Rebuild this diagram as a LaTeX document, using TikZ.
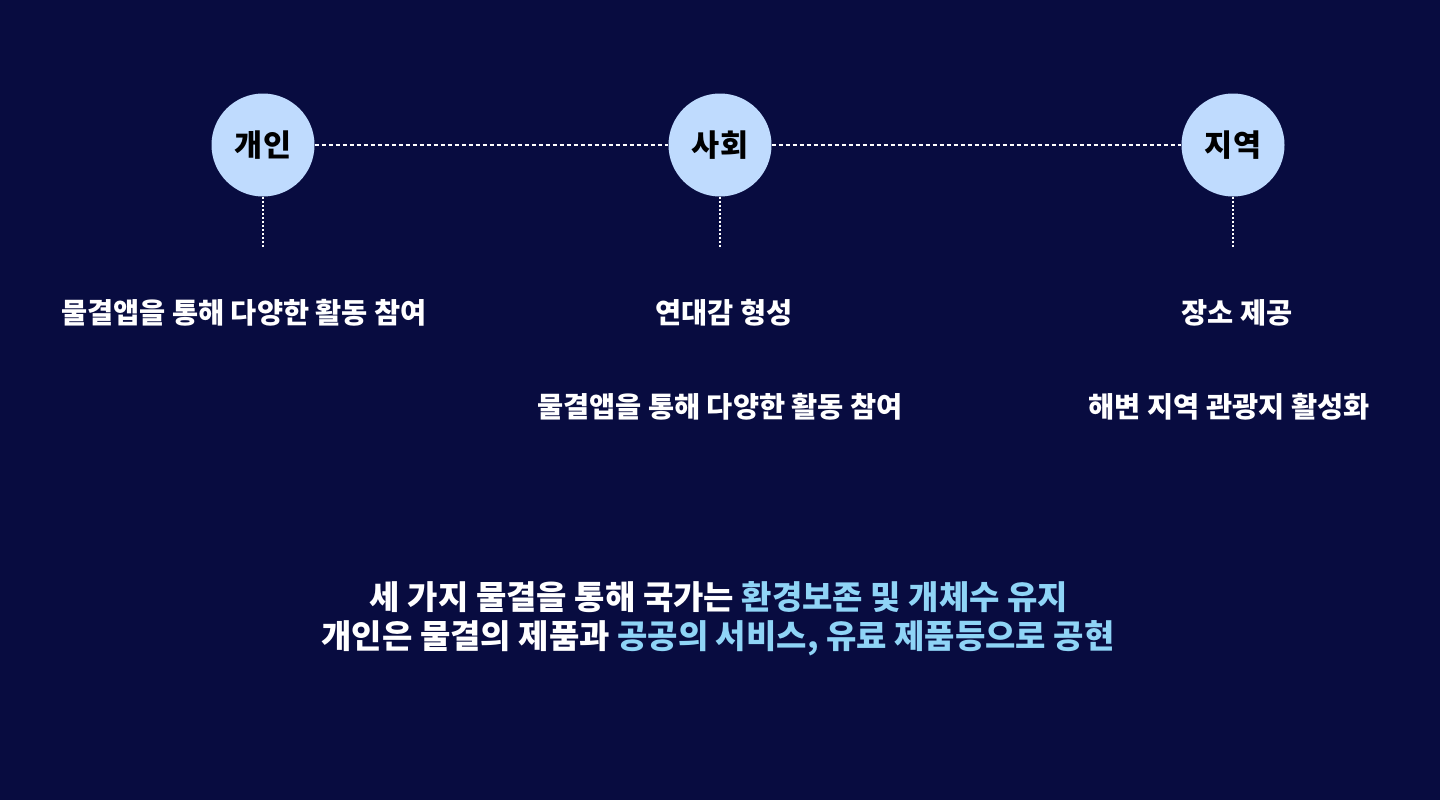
\documentclass[tikz,border=0pt]{standalone}
\usepackage{fontspec}
\newfontfamily\krfont{Noto Sans CJK KR}
\definecolor{bgnavy}{HTML}{080C40}
\definecolor{circblue}{HTML}{BFDBFE}
\definecolor{hlblue}{HTML}{8FD4F6}
\begin{document}
\begin{tikzpicture}[x=1pt, y=-1pt,
    stage/.style={circle, fill=circblue, minimum size=103pt, inner sep=0pt, font=\krfont\fontsize{30.5}{34}\selectfont\bfseries, text=black},
    item/.style={text=white, font=\krfont\fontsize{28.4}{32}\selectfont\bfseries, inner sep=0pt},
    summary/.style={text=white, font=\krfont\fontsize{33}{38}\selectfont\bfseries, inner sep=0pt},
    hdash/.style={white, line width=1.5pt, dash pattern=on 4pt off 3pt},
    vdots/.style={white, line width=1.5pt, dash pattern=on 2pt off 2pt}]
        % Background
        \path[fill=bgnavy] (0,0) rectangle (1440,800);

        % Draw the three stages
        \node[stage] (indiv) at (263,145) {개인};
        \node[stage] (society) at (720,145) {사회};
        \node[stage] (region) at (1233,145) {지역};

        % Draw the dashed line between the stages
        \draw[hdash] (indiv) -- (society);
        \draw[hdash] (society) -- (region);

        % Draw the dotted lines below the stages
        \coordinate (indivend) at (263,248);
        \coordinate (societyend) at (720,248);
        \coordinate (regionend) at (1233,248);
        \draw[vdots] (indiv.south) -- (indivend);
        \draw[vdots] (society.south) -- (societyend);
        \draw[vdots] (region.south) -- (regionend);

        % Draw the items under each stage
        \node[item] (indiv1) at (244,313) {물결앱을 통해 다양한 활동 참여};
        \node[item] (society1) at (724,313) {연대감 형성};
        \node[item] (society2) at (720,407) {물결앱을 통해 다양한 활동 참여};
        \node[item] (region1) at (1237,313) {장소 제공};
        \node[item] (region2) at (1229,407) {해변 지역 관광지 활성화};

        % Draw the summary
        \node[summary] (sum1) at (719,597) {세 가지 물결을 통해 국가는 \textcolor{hlblue}{환경보존 및 개체수 유지}};
        \node[summary] (sum2) at (718,638) {개인은 물결의 제품과 \textcolor{hlblue}{공공의 서비스, 유료 제품등으로 공현}};
\end{tikzpicture}
\end{document}
